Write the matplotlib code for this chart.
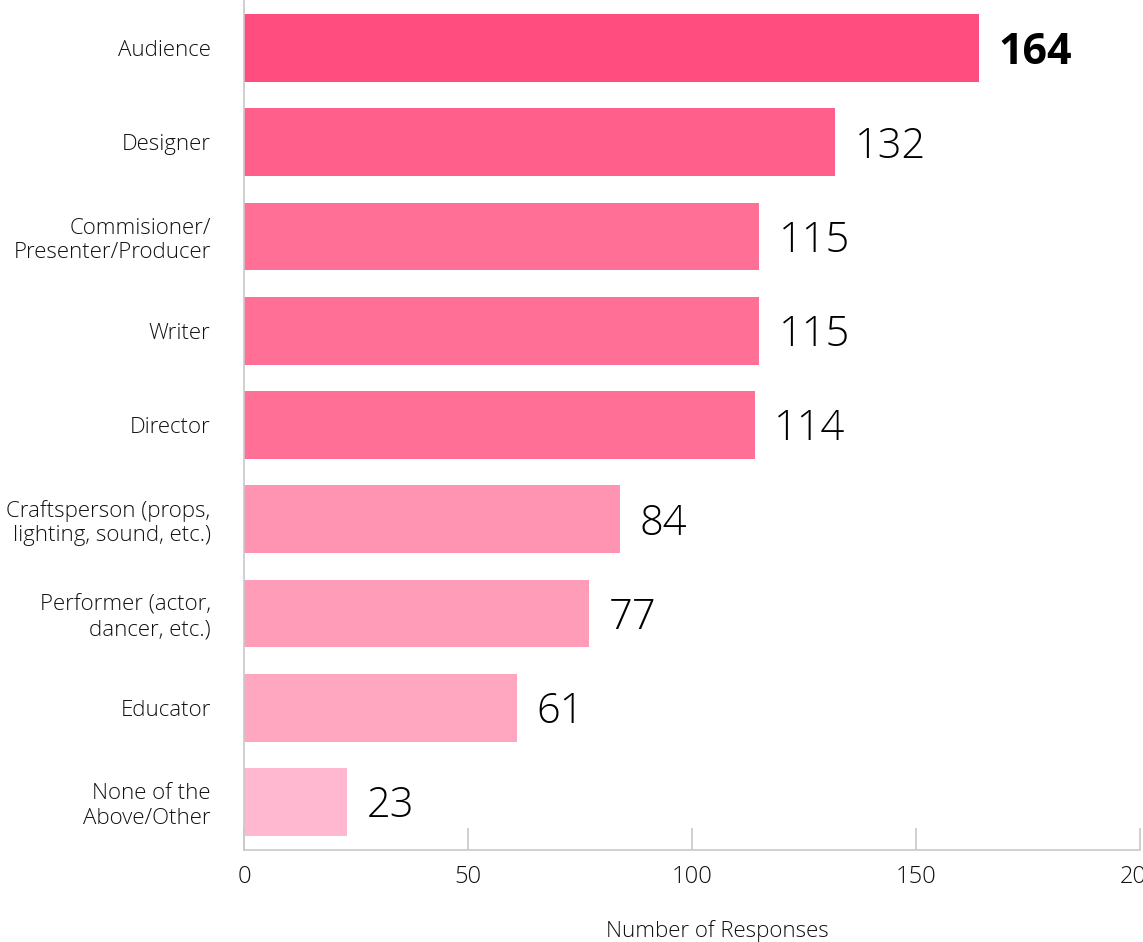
import matplotlib
matplotlib.use("Agg")
import matplotlib.pyplot as plt
from matplotlib import font_manager
from matplotlib.font_manager import FontProperties

categories = ["Audience", "Designer", "Commisioner/\nPresenter/Producer", "Writer", "Director",
              "Craftsperson (props,\nlighting, sound, etc.)", "Performer (actor,\ndancer, etc.)",
              "Educator", "None of the\nAbove/Other"]
values = [164, 132, 115, 115, 114, 84, 77, 61, 23]
colors = ["#FF4D80", "#FF5F8B", "#FF6F96", "#FF6F96", "#FF6F96", "#FF93B2", "#FF9DB9", "#FFA6C0", "#FFB8CF"]
xticks = [0, 50, 100, 150, 200]
xlabel = "Number of Responses"


def find_font(fname):
    for f in font_manager.fontManager.ttflist:
        if f.fname.split('/')[-1] == fname:
            return f.fname
    return None


light_path = find_font("OpenSans-Light.ttf") or find_font("Lato-Light.ttf")
bold_path = find_font("OpenSans-Bold.ttf") or find_font("Lato-Bold.ttf")


def fp(size, bold=False):
    p = bold_path if bold else light_path
    if p:
        return FontProperties(fname=p, size=size)
    return FontProperties(family="DejaVu Sans", size=size, weight="bold" if bold else "normal")


fig = plt.figure(figsize=(11.43, 9.42), dpi=100)
ax = fig.add_axes([244/1143, 1-850/942, (1140-244)/1143, 850/942])

ypos = list(range(len(categories)))
ax.barh(ypos, values, height=0.72, color=colors)
ax.set_ylim(8.51, -0.51)
ax.set_xlim(0, 200)

for i, v in enumerate(values):
    ax.annotate(str(v), (v, i), xytext=(14, -3), textcoords="offset points",
                va="center", ha="left", color="black",
                fontproperties=fp(31 if i == 0 else 30, bold=(i == 0)))

ax.set_yticks(ypos)
ax.set_yticklabels(categories, fontproperties=fp(16), linespacing=1.2, color="#111111")
ax.tick_params(axis="y", length=0, pad=24)
ax.set_xticks(xticks)
ax.set_xticklabels([str(t) for t in xticks], fontproperties=fp(17), color="#111111")
ax.tick_params(axis="x", direction="in", length=16, width=1.2, color="#c8c8c8", pad=11)
for s in ["top", "right"]:
    ax.spines[s].set_visible(False)
for s in ["left", "bottom"]:
    ax.spines[s].set_color("#c8c8c8")
    ax.spines[s].set_linewidth(1.2)
ax.set_xlabel(xlabel, fontproperties=fp(16), labelpad=25, color="#111111")
ax.xaxis.set_label_coords((717 - 244) / 896, -(931 - 850) / 850)
ax.xaxis.label.set_va("center")
ax.set_axisbelow(False)

fig.savefig("out.png", dpi=100)
